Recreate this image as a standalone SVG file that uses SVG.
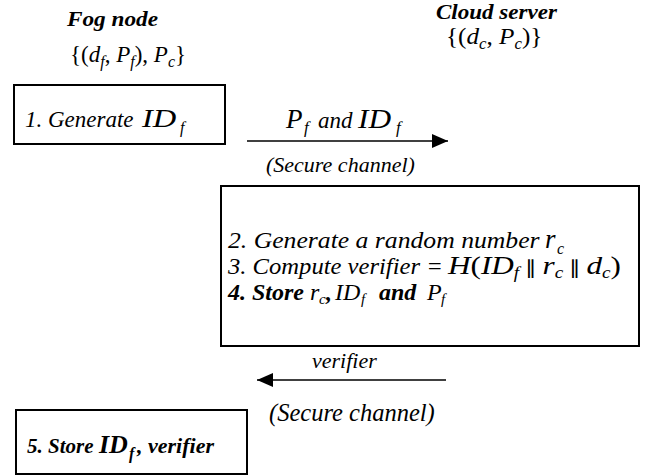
<svg xmlns="http://www.w3.org/2000/svg" width="646" height="476" viewBox="0 0 646 476">
<defs>
<marker id="ah" markerUnits="userSpaceOnUse" markerWidth="16" markerHeight="14" viewBox="0 0 16 14" refX="16" refY="7" orient="auto">
<path d="M0,0 L16,7 L0,14 z" fill="#000"/>
</marker>
</defs>
<rect width="646" height="476" fill="#fff"/>
<g id="fog-node">
<text font-family="Liberation Serif" font-style="italic" font-weight="bold" font-size="22" transform="translate(67,26) scale(1.056,1)">Fog node</text>
<text font-family="Liberation Serif" font-style="italic" font-size="23" x="70" y="62"><tspan font-style="normal">{(</tspan>d<tspan font-size="16" dy="5">f</tspan><tspan font-style="normal" dy="-5">, </tspan>P<tspan font-size="16" dy="5">f</tspan><tspan font-style="normal" dy="-5">), </tspan>P<tspan font-size="16" dy="5">c</tspan><tspan font-style="normal" dy="-5">}</tspan></text>
</g>
<g id="cloud-server">
<text font-family="Liberation Serif" font-style="italic" font-weight="bold" font-size="22" transform="translate(436,19) scale(1.048,1)">Cloud server</text>
<text font-family="Liberation Serif" font-style="italic" font-size="24" transform="translate(446,44) scale(1.05,1)"><tspan font-style="normal">{(</tspan>d<tspan font-size="16" dy="5">c</tspan><tspan font-style="normal" dy="-5">, </tspan>P<tspan font-size="16" dy="5">c</tspan><tspan font-style="normal" dy="-5">)}</tspan></text>
</g>
<g id="step1">
<rect x="14" y="85" width="211" height="59" fill="#fff" stroke="#000" stroke-width="2"/>
<text font-family="Liberation Serif" font-style="italic" font-size="23" x="25" y="127">1. Generate</text>
<text font-family="Liberation Serif" font-style="italic" font-size="25" transform="translate(142,127) scale(1.3,1)">ID</text>
<text font-family="Liberation Serif" font-style="italic" font-size="16" x="180" y="133">f</text>
</g>
<g id="steps2-4">
<rect x="221" y="186" width="418" height="160" fill="#fff" stroke="#000" stroke-width="2"/>
<text font-family="Liberation Serif" font-style="italic" font-size="24" transform="translate(228,248) scale(1.07,1)">2. Generate a random number</text>
<text font-family="Liberation Serif" font-style="italic" font-size="27" x="545" y="248">r</text>
<text font-family="Liberation Serif" font-style="italic" font-size="16" x="557" y="254">c</text>
<text font-family="Liberation Serif" font-style="italic" font-size="24" transform="translate(228,274) scale(1.026,1)">3. Compute verifier =</text>
<text font-family="Liberation Serif" font-style="italic" font-size="26" transform="translate(448,274) scale(1.2,1)">H<tspan font-style="normal">(</tspan>ID<tspan font-size="16" dy="4">f</tspan><tspan font-style="normal" font-size="19" dy="-4"> ∥ </tspan>r<tspan font-size="16" dy="4">c</tspan><tspan font-style="normal" font-size="19" dy="-4"> ∥ </tspan>d<tspan font-size="16" dy="4">c</tspan><tspan font-style="normal" dy="-4">)</tspan></text>
<text font-family="Liberation Serif" font-style="italic" font-weight="bold" font-size="24" x="228" y="300">4. Store</text>
<text font-family="Liberation Serif" font-style="italic" font-size="24" x="310" y="300">r</text>
<text font-family="Liberation Serif" font-style="italic" font-size="15" x="319" y="304">c</text>
<text font-family="Liberation Serif" font-style="italic" font-weight="bold" font-size="24" x="326" y="300">,</text>
<text font-family="Liberation Serif" font-style="italic" font-size="24" x="335" y="300">ID</text>
<text font-family="Liberation Serif" font-style="italic" font-size="15" x="361" y="304">f</text>
<text font-family="Liberation Serif" font-style="italic" font-weight="bold" font-size="24" x="379" y="300">and</text>
<text font-family="Liberation Serif" font-style="italic" font-size="24" x="427" y="300">P</text>
<text font-family="Liberation Serif" font-style="italic" font-size="15" x="441" y="304">f</text>
</g>
<g id="step5">
<rect x="16" y="410" width="231" height="64" fill="#fff" stroke="#000" stroke-width="2"/>
<text font-family="Liberation Serif" font-style="italic" font-weight="bold" font-size="21" x="27" y="453">5. Store</text>
<text font-family="Liberation Serif" font-style="italic" font-weight="bold" font-size="26" x="99" y="453">ID</text>
<text font-family="Liberation Serif" font-style="italic" font-weight="bold" font-size="16" x="129" y="459">f</text>
<text font-family="Liberation Serif" font-style="italic" font-weight="bold" font-size="22" x="137" y="453">, verifier</text>
</g>
<g id="connectors">
<line x1="247" y1="141" x2="448" y2="141" stroke="#000" stroke-width="1.6" marker-end="url(#ah)"/>
<text font-family="Liberation Serif" font-style="italic" font-size="27" x="286" y="128">P</text>
<text font-family="Liberation Serif" font-style="italic" font-size="17" x="304" y="133">f</text>
<text font-family="Liberation Serif" font-style="italic" font-size="23" x="318" y="128">and</text>
<text font-family="Liberation Serif" font-style="italic" font-size="28" transform="translate(358,128) scale(1.12,1)">ID</text>
<text font-family="Liberation Serif" font-style="italic" font-size="17" x="396" y="133">f</text>
<text font-family="Liberation Serif" font-style="italic" font-size="22" x="266" y="172">(Secure channel)</text>
<line x1="446" y1="380" x2="257" y2="380" stroke="#000" stroke-width="1.6" marker-end="url(#ah)"/>
<text font-family="Liberation Serif" font-style="italic" font-size="22" x="312" y="368">verifier</text>
<text font-family="Liberation Serif" font-style="italic" font-size="24.5" x="269" y="421">(Secure channel)</text>
</g>
</svg>
